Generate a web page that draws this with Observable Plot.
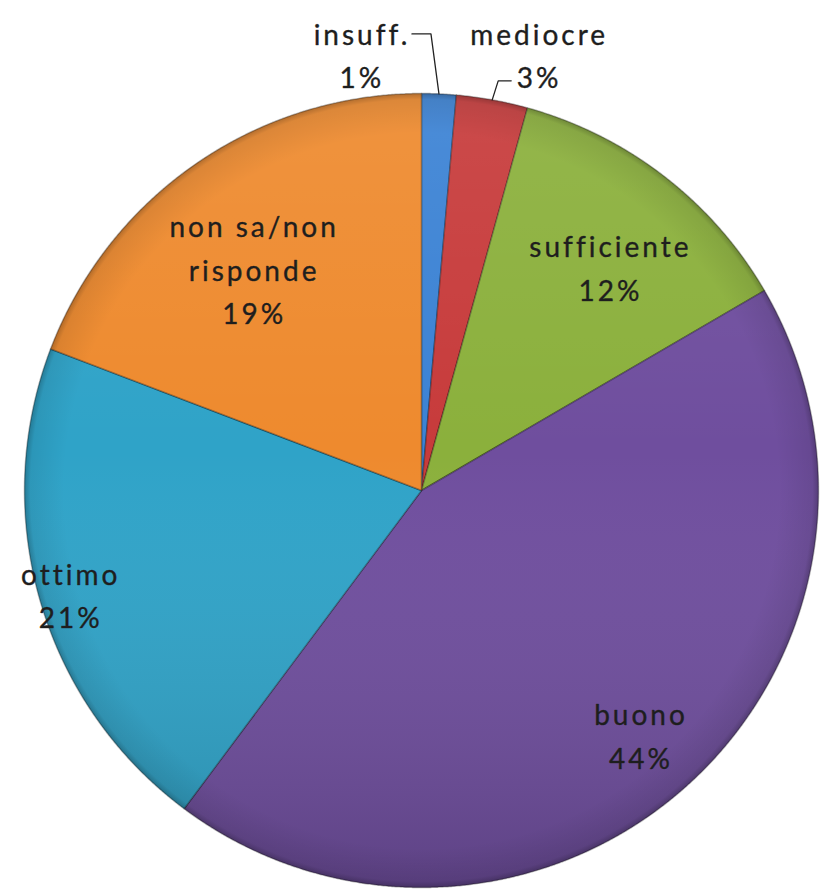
<!DOCTYPE html>
<html>
<head>
<meta charset="utf-8">
<script src="https://cdn.jsdelivr.net/npm/d3@7"></script>
<script src="https://cdn.jsdelivr.net/npm/@observablehq/plot@0.6"></script>
<style>
  html, body { margin: 0; padding: 0; background: #fff; }
  #chart svg text { letter-spacing: 3px; }
</style>
</head>
<body>
<div id="chart"></div>
<script>
// ---- data ----
const categories = ["insuff.", "mediocre", "sufficiente", "buono", "ottimo", "non sa/non\nrisponde"];
const values = [1.4, 2.9, 12.3, 43.6, 20.6, 19.2];
const pctLabels = ["1%", "3%", "12%", "44%", "21%", "19%"];
const colors = ["#3b82d4", "#c73b3b", "#8bb03c", "#6f4e9e", "#2fa3c8", "#ee8a2e"];

// ---- layout ----
const W = 822, H = 889, CX = 421, CY = 490, R = 397;
const insideRadius = [null, null, 0.73, 0.83, 0.92, 0.69];   // fraction of radius
const insideNudge = [null, null, [12, 4], [0, -3], [0, 0], [-12, 2]]; // px
const outsideOffset = [[-77, -41], [47, -47], null, null, null, null]; // px from rim
const leaderOffsets = [[[-8, -60], [-27, -60]], [[6, -19], [19, -19]], null, null, null, null];

const arcs = d3.pie().sort(null).value(d => d)(values);
const slices = arcs.map((p, i) => ({
  key: categories[i], i, a0: p.startAngle, a1: p.endAngle, mid: (p.startAngle + p.endAngle) / 2
}));

function polygon(key, a0, a1) {
  const n = Math.max(2, Math.ceil((a1 - a0) / (Math.PI / 720)));
  const out = [{key, x: 0, y: 0}];
  for (let k = 0; k <= n; k++) {
    const a = a0 + (a1 - a0) * k / n;
    out.push({key, x: Math.sin(a), y: Math.cos(a)});
  }
  out.push({key, x: 0, y: 0});
  return out;
}
const slicePts = slices.flatMap(s => polygon(s.key, s.a0, s.a1));
const discPts = polygon("disc", 0, 2 * Math.PI);

const inside = slices.filter(s => insideRadius[s.i] != null).map(s => ({
  x: insideRadius[s.i] * Math.sin(s.mid) + insideNudge[s.i][0] / R,
  y: insideRadius[s.i] * Math.cos(s.mid) - insideNudge[s.i][1] / R,
  text: categories[s.i] + "\n" + pctLabels[s.i]
}));
const outside = slices.filter(s => outsideOffset[s.i] != null).map(s => ({
  x: Math.sin(s.mid) + outsideOffset[s.i][0] / R,
  y: Math.cos(s.mid) - outsideOffset[s.i][1] / R,
  text: categories[s.i] + "\n" + pctLabels[s.i]
}));
const leaders = slices.filter(s => leaderOffsets[s.i] != null).flatMap(s => {
  const x0 = Math.sin(s.mid), y0 = Math.cos(s.mid);
  return [{key: s.key, x: x0, y: y0}].concat(leaderOffsets[s.i].map(([dx, dy]) => ({
    key: s.key, x: x0 + dx / R, y: y0 - dy / R
  })));
});

const defs = () => {
  const d = d3.create("svg:defs");
  const lg = d.append("linearGradient").attr("id", "shade").attr("x1", 0).attr("y1", 0).attr("x2", 0).attr("y2", 1);
  lg.append("stop").attr("offset", "0%").attr("stop-color", "#fff").attr("stop-opacity", 0.08);
  lg.append("stop").attr("offset", "45%").attr("stop-color", "#fff").attr("stop-opacity", 0);
  lg.append("stop").attr("offset", "100%").attr("stop-color", "#000").attr("stop-opacity", 0.16);
  const rg = d.append("radialGradient").attr("id", "rim").attr("cx", "50%").attr("cy", "50%").attr("r", "50%");
  rg.append("stop").attr("offset", "90%").attr("stop-color", "#000").attr("stop-opacity", 0);
  rg.append("stop").attr("offset", "98.5%").attr("stop-color", "#000").attr("stop-opacity", 0.08);
  rg.append("stop").attr("offset", "100%").attr("stop-color", "#000").attr("stop-opacity", 0.25);
  return d.node();
};

const textOpts = {x: "x", y: "y", text: "text", fontFamily: "Lato", fontSize: 28, lineHeight: 1.55,
  fill: "#1e1e1e", stroke: "#1e1e1e", strokeWidth: 0.45, strokeOpacity: 0.8};

const chart = Plot.plot({
  width: W, height: H, margin: 0,
  x: {domain: [-CX / R, (W - CX) / R], axis: null},
  y: {domain: [-(H - CY) / R, CY / R], axis: null},
  color: {domain: categories, range: colors},
  marks: [
    defs,
    Plot.line(slicePts, {x: "x", y: "y", z: "key", fill: "key", stroke: "#000", strokeOpacity: 0.3,
      strokeWidth: 1.5, strokeLinejoin: "round", curve: "linear"}),
    Plot.line(discPts, {x: "x", y: "y", fill: "url(#shade)", stroke: "none", curve: "linear"}),
    Plot.line(discPts, {x: "x", y: "y", fill: "url(#rim)", stroke: "none", curve: "linear"}),
    Plot.line(leaders, {x: "x", y: "y", z: "key", stroke: "#222", strokeWidth: 1.3, curve: "linear"}),
    Plot.text(inside, textOpts),
    Plot.text(outside, textOpts)
  ]
});
document.getElementById("chart").append(chart);
</script>
</body>
</html>
